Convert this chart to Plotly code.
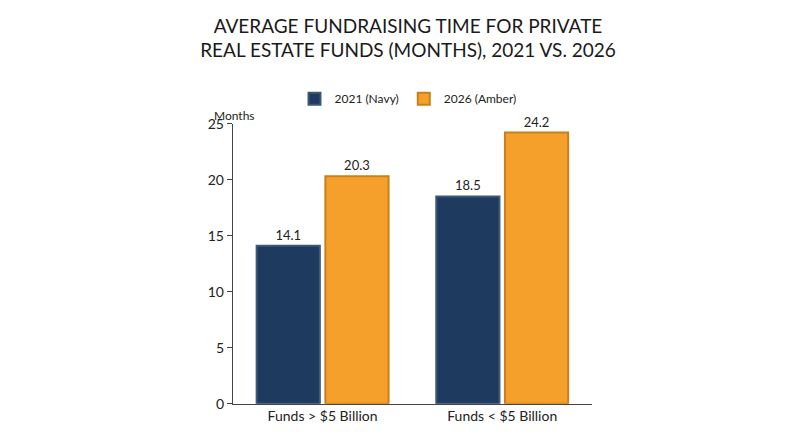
import plotly.graph_objects as go

categories = ['Funds > $5 Billion', 'Funds < $5 Billion']
values_2021 = [14.1, 18.5]
values_2026 = [20.3, 24.2]
series_names = ['2021 (Navy)', '2026 (Amber)']

NAVY = '#1f3a5f'
AMBER = '#f5a02a'

fig = go.Figure()
fig.add_trace(go.Bar(x=categories, y=values_2021, name=series_names[0],
                     marker=dict(color=NAVY, line=dict(color='#3d5878', width=2)),
                     text=[f'{v}' for v in values_2021], textposition='outside',
                     textfont=dict(size=13, color='#222'), cliponaxis=False))
fig.add_trace(go.Bar(x=categories, y=values_2026, name=series_names[1],
                     marker=dict(color=AMBER, line=dict(color='#c9801c', width=2)),
                     text=[f'{v}' for v in values_2026], textposition='outside',
                     textfont=dict(size=13, color='#222'), cliponaxis=False))

fig.update_layout(
  width=800, height=447,
  paper_bgcolor='white', plot_bgcolor='white',
  font=dict(family='Lato, Open Sans, sans-serif', color='#222'),
  margin=dict(l=0, r=0, t=0, b=0),
  barmode='group', bargap=0.235, bargroupgap=0.08,
  title=dict(text='AVERAGE FUNDRAISING TIME FOR PRIVATE<br>REAL ESTATE FUNDS (MONTHS), 2021 VS. 2026',
             x=0.5, xanchor='center', y=0.945, yanchor='top',
             font=dict(size=19, color='#1a1a1a')),
  legend=dict(orientation='h', x=0.5, xanchor='center', y=0.81, yanchor='middle',
              font=dict(size=12), itemsizing='constant'),
  xaxis=dict(domain=[0.281, 0.73], range=[-0.5, 1.5], showline=True,
             linecolor='#444', linewidth=1, ticks='', tickfont=dict(size=14)),
  yaxis=dict(domain=[0.1007, 0.752], range=[0, 25], dtick=5, showline=True,
             linecolor='#444', linewidth=1, ticks='outside', ticklen=5,
             tickcolor='#444', showgrid=False, tickfont=dict(size=14)),
  annotations=[dict(text='Months', x=0.255, xref='paper', xanchor='left',
                    y=0.77, yref='paper', yanchor='middle', showarrow=False,
                    font=dict(size=12))],
)
fig.update_yaxes(zeroline=False)

fig.write_html('out.html')
